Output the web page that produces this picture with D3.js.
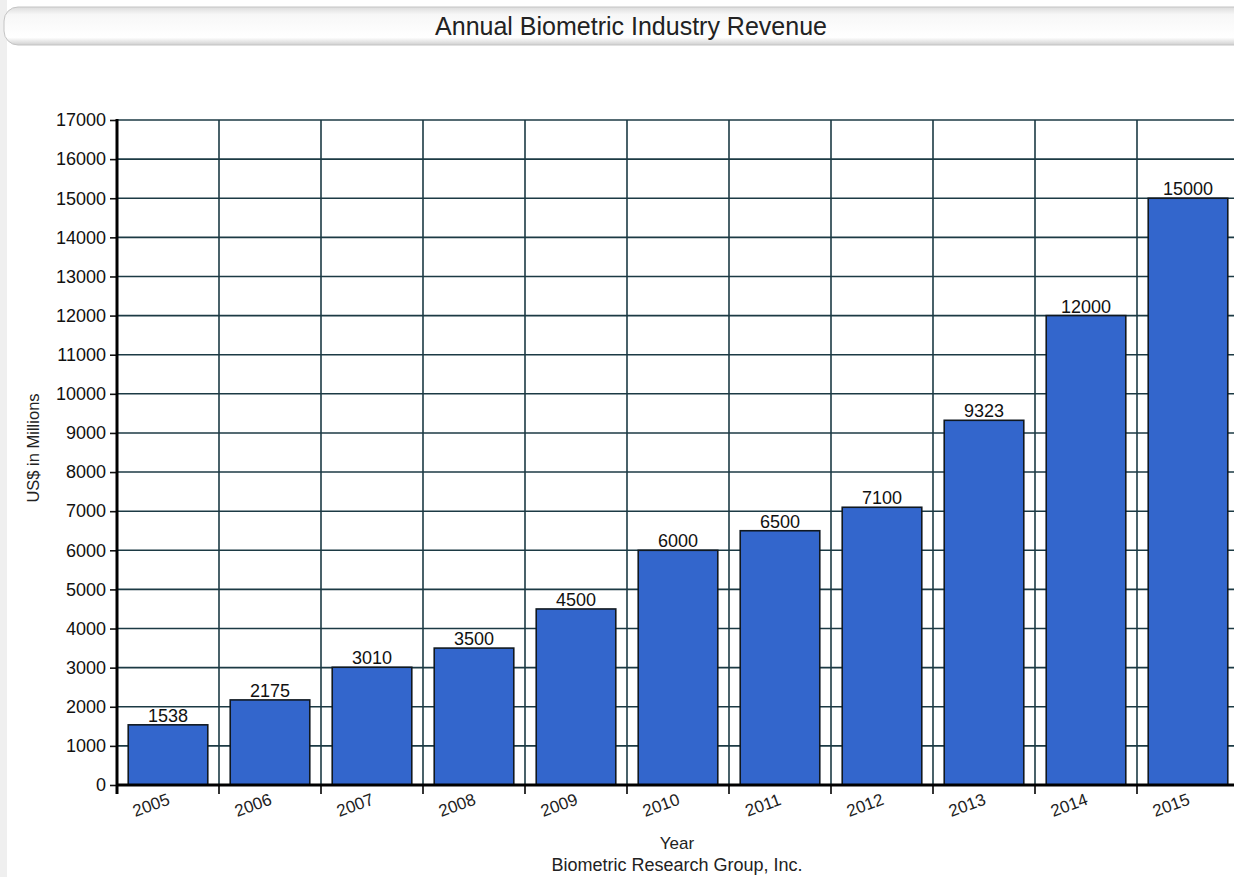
<!DOCTYPE html>
<html>
<head>
<meta charset="utf-8">
<script src="https://cdn.jsdelivr.net/npm/d3@7"></script>
<style>
  body { margin: 0; background: #fff; }
  svg { display: block; }
</style>
</head>
<body>
<div id="chart"></div>
<script>
const years = ["2005", "2006", "2007", "2008", "2009", "2010", "2011", "2012", "2013", "2014", "2015"]
const revenue = [1538, 2175, 3010, 3500, 4500, 6000, 6500, 7100, 9323, 12000, 15000]
const yTicks = d3.range(0, 17001, 1000)

const title = "Annual Biometric Industry Revenue"
const yLabel = "US$ in Millions"
const xLabel = "Year"
const source = "Biometric Research Group, Inc."

const width = 1234
const height = 877
const margin = {top: 120, left: 117, bottom: 92}
const bandW = 102
const font = "'Liberation Sans', Arial, sans-serif"

const svg = d3.select("#chart").append("svg")
    .attr("width", width)
    .attr("height", height)
    .attr("font-family", font)

// grey strip on the far left
svg.append("rect")
    .attr("x", 0).attr("y", 0).attr("width", 7).attr("height", height)
    .attr("fill", "#efefef")

// title bar
const grad = svg.append("defs").append("linearGradient")
    .attr("id", "tbar").attr("x1", 0).attr("x2", 0).attr("y1", 0).attr("y2", 1)
grad.append("stop").attr("offset", "0%").attr("stop-color", "#dcdcdc")
grad.append("stop").attr("offset", "20%").attr("stop-color", "#f7f7f7")
grad.append("stop").attr("offset", "80%").attr("stop-color", "#ffffff")
grad.append("stop").attr("offset", "100%").attr("stop-color", "#d0d0d0")

svg.append("rect")
    .attr("x", 4).attr("y", 7).attr("width", width + 20).attr("height", 38)
    .attr("rx", 14)
    .attr("fill", "url(#tbar)")
    .attr("stroke", "#c4c4c4")

svg.append("text")
    .attr("x", 631).attr("y", 35)
    .attr("text-anchor", "middle")
    .attr("font-size", 25)
    .attr("fill", "#222")
    .text(title)

const x = d3.scaleBand()
    .domain(years)
    .range([margin.left, margin.left + bandW * years.length])
    .paddingInner(0.22)
    .paddingOuter(0.11)

const band = d3.scaleBand()
    .domain(years)
    .range([margin.left, margin.left + bandW * years.length])

const y = d3.scaleLinear()
    .domain([0, 17000])
    .range([height - margin.bottom, margin.top])

const gridColor = "#1c3a44"

// horizontal grid
svg.append("g")
  .selectAll("line")
  .data(yTicks)
  .join("line")
    .attr("x1", margin.left)
    .attr("x2", width)
    .attr("y1", d => y(d))
    .attr("y2", d => y(d))
    .attr("stroke", gridColor)
    .attr("stroke-width", 1.6)

// vertical grid at band boundaries
svg.append("g")
  .selectAll("line")
  .data(years)
  .join("line")
    .attr("x1", d => band(d) + band.bandwidth())
    .attr("x2", d => band(d) + band.bandwidth())
    .attr("y1", y(17000))
    .attr("y2", y(0))
    .attr("stroke", gridColor)
    .attr("stroke-width", 1.6)

// bars
svg.append("g")
  .selectAll("rect")
  .data(revenue)
  .join("rect")
    .attr("x", (d, i) => x(years[i]))
    .attr("width", x.bandwidth())
    .attr("y", d => y(d))
    .attr("height", d => y(0) - y(d))
    .attr("fill", "#3366cc")
    .attr("stroke", "#101820")
    .attr("stroke-width", 1.6)

// value labels
svg.append("g")
    .attr("font-size", 18)
    .attr("text-anchor", "middle")
    .attr("fill", "#111")
  .selectAll("text")
  .data(revenue)
  .join("text")
    .attr("x", (d, i) => x(years[i]) + x.bandwidth() / 2)
    .attr("y", d => y(d) - 3)
    .text(d => d)

// y axis
const yAxis = svg.append("g")
    .attr("transform", `translate(${margin.left},0)`)
    .call(d3.axisLeft(y).tickValues(yTicks).tickFormat(d3.format("d")).tickSize(7).tickPadding(4))
yAxis.select(".domain").remove()
yAxis.selectAll(".tick line").attr("stroke", "#111").attr("stroke-width", 1.6)
yAxis.selectAll(".tick text")
    .attr("font-size", 18)
    .attr("font-family", font)
    .attr("fill", "#111")

svg.append("line")
    .attr("x1", margin.left).attr("x2", margin.left)
    .attr("y1", y(17000) - 1).attr("y2", y(0) + 9)
    .attr("stroke", "#000").attr("stroke-width", 3)

// x axis
svg.append("line")
    .attr("x1", margin.left).attr("x2", width)
    .attr("y1", y(0)).attr("y2", y(0))
    .attr("stroke", "#000").attr("stroke-width", 3)

svg.append("g")
  .selectAll("line")
  .data(years)
  .join("line")
    .attr("x1", d => band(d) + band.bandwidth())
    .attr("x2", d => band(d) + band.bandwidth())
    .attr("y1", y(0))
    .attr("y2", y(0) + 9)
    .attr("stroke", "#000")
    .attr("stroke-width", 1.6)

svg.append("g")
    .attr("font-size", 17)
    .attr("text-anchor", "middle")
    .attr("fill", "#222")
  .selectAll("text")
  .data(years)
  .join("text")
    .attr("transform", d => `translate(${band(d) + band.bandwidth() / 2 - 17},${y(0) + 20}) rotate(-20)`)
    .attr("dy", "0.35em")
    .text(d => d)

// axis titles
svg.append("text")
    .attr("transform", `translate(39,448) rotate(-90)`)
    .attr("text-anchor", "middle")
    .attr("font-size", 16.5)
    .attr("fill", "#222")
    .text(yLabel)

svg.append("text")
    .attr("x", 677).attr("y", 849)
    .attr("text-anchor", "middle")
    .attr("font-size", 17)
    .attr("fill", "#222")
    .text(xLabel)

svg.append("text")
    .attr("x", 677).attr("y", 871)
    .attr("text-anchor", "middle")
    .attr("font-size", 18)
    .attr("fill", "#222")
    .text(source)
</script>
</body>
</html>
